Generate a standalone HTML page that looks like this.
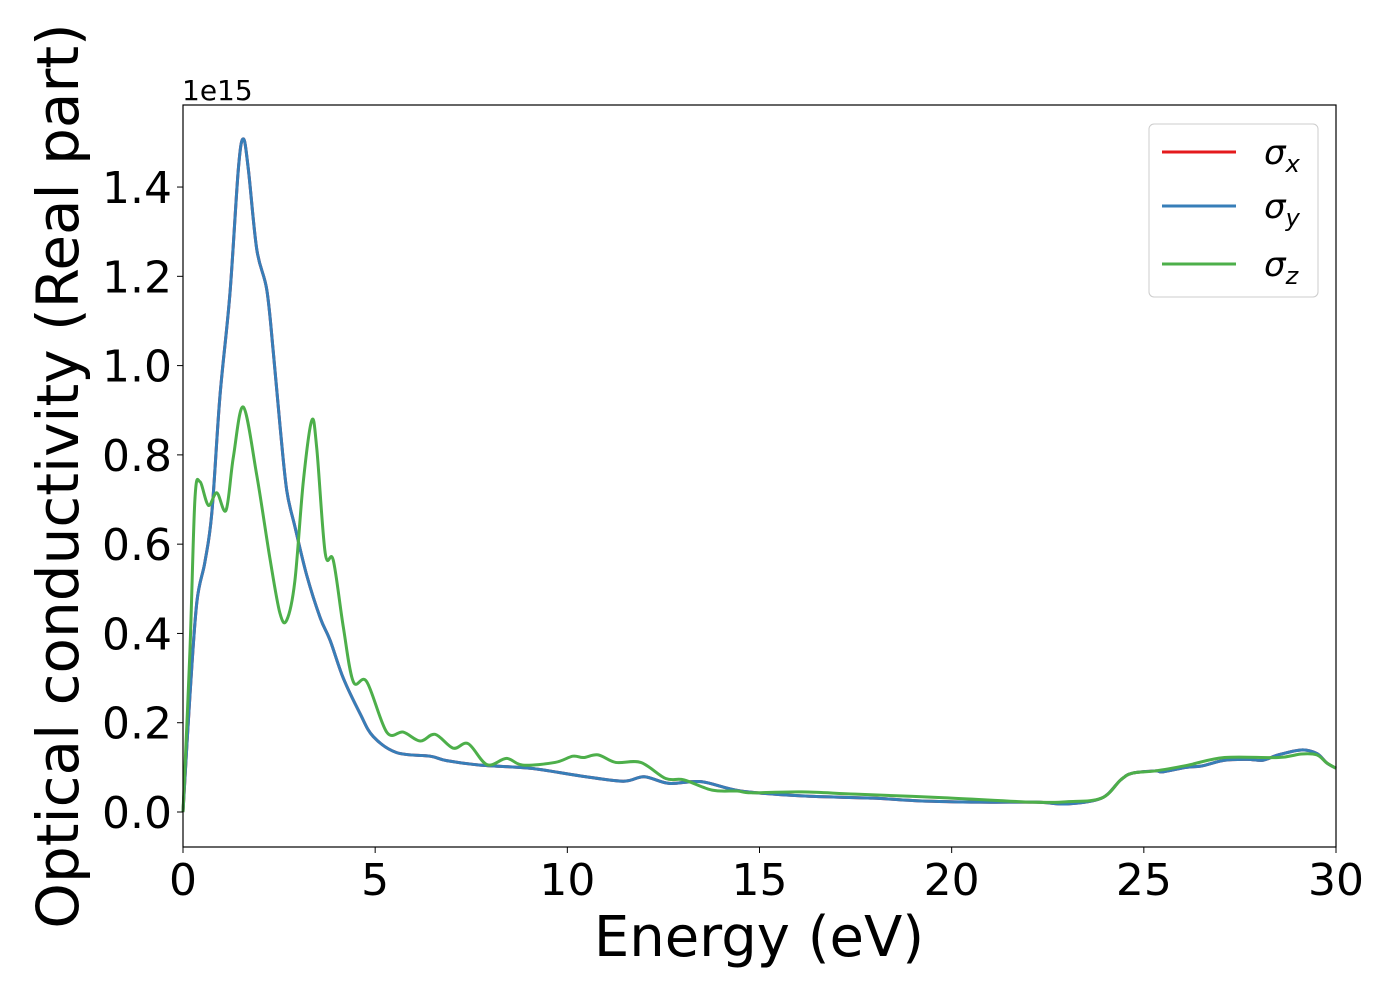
<!DOCTYPE html>
<html><head><meta charset="utf-8"><style>
html,body{margin:0;padding:0;background:#fff}
svg{display:block;font-family:"DejaVu Sans","Liberation Sans",sans-serif}
</style></head><body>
<svg id="chart" width="1400" height="1000" viewBox="0 0 1400 1000" xmlns="http://www.w3.org/2000/svg">
<rect x="0" y="0" width="1400" height="1000" fill="#fff"/>
<g id="series"></g>
<rect x="183" y="105" width="1153" height="742" fill="none" stroke="#000" stroke-width="1.2"/>
<g id="xticks"></g>
<g id="yticks"></g>
<text x="182" y="100" font-size="28">1e15</text>
<text x="759" y="956" font-size="56" text-anchor="middle">Energy (eV)</text>
<text transform="translate(78,476) rotate(-90)" font-size="58" text-anchor="middle">Optical conductivity (Real part)</text>
<g>
<rect x="1149" y="124" width="169" height="173" rx="5" fill="#fff" stroke="#ccc" stroke-width="1"/>
<line x1="1162" y1="152" x2="1236" y2="152" stroke="#e41a1c" stroke-width="3"/>
<text x="1264" y="164" font-size="34" font-style="italic">σ<tspan font-size="24" dy="8">x</tspan></text>
<line x1="1162" y1="206" x2="1236" y2="206" stroke="#377eb8" stroke-width="3"/>
<text x="1264" y="218" font-size="34" font-style="italic">σ<tspan font-size="24" dy="8">y</tspan></text>
<line x1="1162" y1="264" x2="1236" y2="264" stroke="#4daf4a" stroke-width="3"/>
<text x="1264" y="276" font-size="34" font-style="italic">σ<tspan font-size="24" dy="8">z</tspan></text>
</g>
</svg>
<script>
const xTicks = [0,5,10,15,20,25,30];
const yTicks = [0.0,0.2,0.4,0.6,0.8,1.0,1.2,1.4];
const energyXY = [0,0.18,0.36,0.57,0.75,0.96,1.22,1.44,1.57,1.70,1.92,2.18,2.35,2.53,2.70,2.91,3.22,3.57,3.83,4.17,4.61,4.95,5.56,6.43,6.86,7.73,9.03,10.33,11.45,12.0,12.65,13.48,14.51,16.1,17.95,19.15,20.74,22.2,23.0,23.9,24.4,24.7,25.3,25.5,26.1,26.5,27.1,27.7,28.1,28.5,29.1,29.5,29.76,30];
const sigmaX = [0,0.26,0.47,0.56,0.67,0.93,1.16,1.44,1.508,1.44,1.26,1.17,1.03,0.86,0.72,0.64,0.53,0.435,0.384,0.30,0.22,0.169,0.133,0.125,0.115,0.105,0.098,0.081,0.069,0.079,0.064,0.068,0.047,0.036,0.031,0.025,0.022,0.022,0.018,0.031,0.072,0.087,0.092,0.090,0.100,0.103,0.116,0.118,0.116,0.128,0.139,0.131,0.110,0.098];
const sigmaY = sigmaX.slice();
const energyZ = [0,0.18,0.31,0.44,0.66,0.88,1.12,1.31,1.57,1.92,2.26,2.52,2.70,2.91,3.13,3.35,3.48,3.70,3.91,4.17,4.43,4.78,5.30,5.73,6.17,6.56,7.03,7.42,7.91,8.42,8.84,9.68,10.14,10.42,10.80,11.26,11.91,12.56,13.03,13.77,14.42,14.79,16.1,17.5,19.8,22.1,23.0,23.9,24.4,24.7,25.3,26.1,27.1,28.5,29.1,29.5,29.76,30];
const sigmaZ = [0,0.36,0.70,0.74,0.687,0.715,0.676,0.795,0.907,0.754,0.569,0.446,0.43,0.517,0.74,0.877,0.815,0.58,0.564,0.415,0.292,0.292,0.179,0.179,0.159,0.174,0.143,0.153,0.106,0.120,0.105,0.111,0.125,0.122,0.128,0.111,0.111,0.075,0.072,0.049,0.047,0.043,0.045,0.040,0.032,0.022,0.023,0.031,0.072,0.087,0.092,0.104,0.122,0.122,0.130,0.128,0.110,0.098];

const X = v => 183 + v/30*1153;
const Y = v => 812 - v*446.4;
const NS = 'http://www.w3.org/2000/svg';

function smoothPath(xs, ys){
  const p = xs.map((x,i)=>[X(x),Y(ys[i])]);
  let d = 'M'+p[0][0]+','+p[0][1];
  for(let i=0;i<p.length-1;i++){
    const p0=p[Math.max(0,i-1)],p1=p[i],p2=p[i+1],p3=p[Math.min(p.length-1,i+2)];
    const c1x=p1[0]+(p2[0]-p0[0])/6,c1y=p1[1]+(p2[1]-p0[1])/6;
    const c2x=p2[0]-(p3[0]-p1[0])/6,c2y=p2[1]-(p3[1]-p1[1])/6;
    d+=' C'+c1x+','+c1y+' '+c2x+','+c2y+' '+p2[0]+','+p2[1];
  }
  return d;
}
const g = document.getElementById('series');
function addLine(xs, ys, color, name){
  const el = document.createElementNS(NS,'path');
  el.setAttribute('d', smoothPath(xs, ys));
  el.setAttribute('fill','none');
  el.setAttribute('stroke',color);
  el.setAttribute('stroke-width','3');
  el.setAttribute('stroke-linejoin','round');
  
  
  g.appendChild(el);
}
addLine(energyXY, sigmaX, '#e41a1c', 'line-sigma-x');
addLine(energyXY, sigmaY, '#377eb8', 'line-sigma-y');
addLine(energyZ, sigmaZ, '#4daf4a', 'line-sigma-z');

const xg = document.getElementById('xticks');
xTicks.forEach(t=>{
  const l = document.createElementNS(NS,'line');
  l.setAttribute('x1',X(t));l.setAttribute('x2',X(t));l.setAttribute('y1',847);l.setAttribute('y2',853);
  l.setAttribute('stroke','#000');
  
  
  xg.appendChild(l);
  const tx = document.createElementNS(NS,'text');
  tx.setAttribute('x',X(t));tx.setAttribute('y',895);tx.setAttribute('font-size','44');tx.setAttribute('text-anchor','middle');
  tx.textContent = String(t);
  
  
  xg.appendChild(tx);
});
const yg = document.getElementById('yticks');
yTicks.forEach(t=>{
  const l = document.createElementNS(NS,'line');
  l.setAttribute('x1',177);l.setAttribute('x2',183);l.setAttribute('y1',Y(t));l.setAttribute('y2',Y(t));
  l.setAttribute('stroke','#000');
  
  
  yg.appendChild(l);
  const tx = document.createElementNS(NS,'text');
  tx.setAttribute('x',172);tx.setAttribute('y',Y(t)+16);tx.setAttribute('font-size','44');tx.setAttribute('text-anchor','end');
  tx.textContent = t.toFixed(1);
  
  
  yg.appendChild(tx);
});
</script>
</body></html>
